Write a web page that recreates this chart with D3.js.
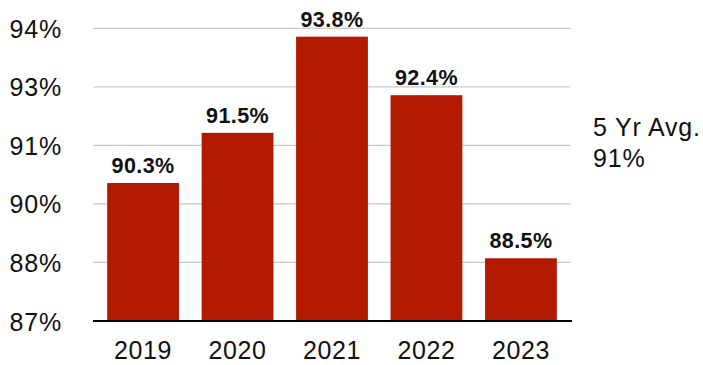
<!DOCTYPE html>
<html>
<head>
<meta charset="utf-8">
<script src="https://cdn.jsdelivr.net/npm/d3@7"></script>
<style>
  html, body { margin: 0; padding: 0; background: #fff; }
  svg { display: block; font-family: "Liberation Sans", Arial, Helvetica, sans-serif; }
</style>
</head>
<body>
<svg id="chart" width="703" height="365"></svg>
<script>
// Yearly rates (percent)
const years = ["2019", "2020", "2021", "2022", "2023"];
const rates = [90.3, 91.5, 93.8, 92.4, 88.5];
const valueLabels = ["90.3%", "91.5%", "93.8%", "92.4%", "88.5%"];
// Axis ticks: evenly spaced, shown rounded to whole percent
const tickValues = [87, 88.4, 89.8, 91.2, 92.6, 94];
const tickLabels = ["87%", "88%", "90%", "91%", "93%", "94%"];
const noteLines = ["5 Yr Avg.", "91%"];

const svg = d3.select("#chart");
const plotLeft = 93, plotRight = 571, plotTop = 28.3, plotBottom = 321;

const x = d3.scaleBand().domain(years).range([plotLeft, plotRight])
  .paddingInner(0.24).paddingOuter(0.15);
const y = d3.scaleLinear().domain([87, 94]).range([plotBottom, plotTop]);

// gridlines
svg.append("g").selectAll("line")
  .data(tickValues.slice(1))
  .join("line")
  .attr("x1", plotLeft).attr("x2", plotRight - 1)
  .attr("y1", d => y(d)).attr("y2", d => y(d))
  .attr("stroke", "#c8c8c8").attr("stroke-width", 1.2);

// y axis labels
const yAxis = d3.axisLeft(y).tickValues(tickValues)
  .tickFormat((d, i) => tickLabels[i]).tickSize(0).tickPadding(0);
const yg = svg.append("g").attr("transform", "translate(62,0)").call(yAxis);
yg.select(".domain").remove();
yg.selectAll("text")
  .attr("font-size", 25).attr("letter-spacing", 0.8)
  .attr("fill", "#111").attr("font-family", "Liberation Sans, Arial, sans-serif")
  .attr("dy", "0.36em");

// bars
svg.append("g").selectAll("rect")
  .data(rates)
  .join("rect")
  .attr("x", (d, i) => x(years[i]))
  .attr("width", x.bandwidth())
  .attr("y", d => y(d))
  .attr("height", d => plotBottom - y(d))
  .attr("fill", "#b21a00");

// value labels
svg.append("g").selectAll("text")
  .data(rates)
  .join("text")
  .attr("x", (d, i) => x(years[i]) + x.bandwidth() / 2)
  .attr("y", d => y(d) - 10)
  .attr("text-anchor", "middle")
  .attr("font-size", 21.5).attr("font-weight", "bold").attr("letter-spacing", 0.4)
  .attr("fill", "#111")
  .text((d, i) => valueLabels[i]);

// baseline
svg.append("line")
  .attr("x1", plotLeft).attr("x2", plotRight + 1)
  .attr("y1", plotBottom).attr("y2", plotBottom)
  .attr("stroke", "#000").attr("stroke-width", 2);

// x axis labels
const xAxis = d3.axisBottom(x).tickSize(0).tickPadding(0);
const xg = svg.append("g").attr("transform", `translate(0,${plotBottom})`).call(xAxis);
xg.select(".domain").remove();
xg.selectAll("text")
  .attr("font-size", 25).attr("letter-spacing", 0.6)
  .attr("fill", "#111").attr("font-family", "Liberation Sans, Arial, sans-serif")
  .attr("dy", null).attr("y", 38);

// side note
svg.append("g").selectAll("text")
  .data(noteLines)
  .join("text")
  .attr("x", 593)
  .attr("y", (d, i) => 136 + i * 31)
  .attr("font-size", 25).attr("letter-spacing", 0.8)
  .attr("fill", "#111")
  .text(d => d);
</script>
</body>
</html>
